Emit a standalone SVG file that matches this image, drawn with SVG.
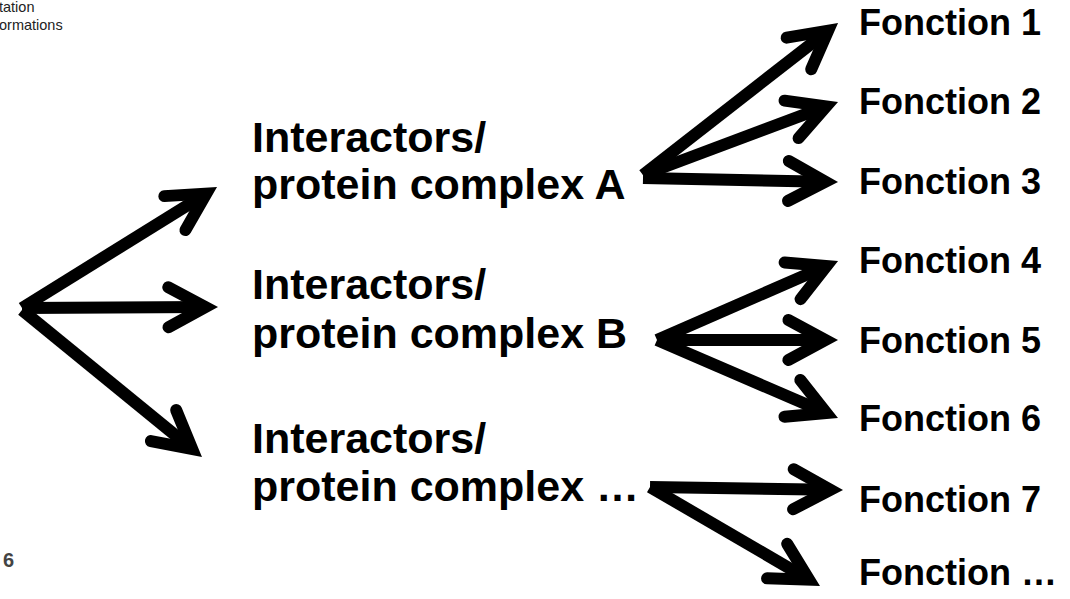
<svg xmlns="http://www.w3.org/2000/svg" width="1070" height="599" viewBox="0 0 1070 599">
  <style>
    .lbl { font-family: "Liberation Sans", Arial, sans-serif; font-weight: bold; fill: #000; }
    .big { font-size: 43px; }
    .fn { font-size: 36px; }
    .hdr { font-family: "Liberation Sans", Arial, sans-serif; font-size: 14.5px; fill: #222; }
    .pg { font-family: "Liberation Sans", Arial, sans-serif; font-size: 20px; font-weight: bold; fill: #444; }
    .shaft { stroke: #000; stroke-width: 12; fill: none; stroke-linecap: butt; marker-end: url(#chevron); }
  </style>
  <defs>
    <marker id="chevron" markerUnits="userSpaceOnUse" refX="0" refY="0" markerWidth="60" markerHeight="60" orient="auto" overflow="visible">
      <path d="M -37,-20 L 0,0 L -37,20" fill="none" stroke="#000" stroke-width="12" stroke-linecap="round" stroke-linejoin="miter"/>
    </marker>
  </defs>

  <!-- header fragment and page number -->
  <g id="header">
    <text class="hdr" x="-1" y="12">tation</text>
    <text class="hdr" x="-1" y="30">ormations</text>
  </g>
  <g id="page-number">
    <text class="pg" x="3" y="567">6</text>
  </g>

  <!-- connectors -->
  <g id="connectors">
    <!-- root fan -->
    <line class="shaft" x1="22" y1="308" x2="206.3" y2="193.6"/>
    <line class="shaft" x1="22" y1="308" x2="205.4" y2="307"/>
    <line class="shaft" x1="22" y1="310" x2="192.2" y2="449"/>
    <!-- complex A -->
    <line class="shaft" x1="643" y1="175" x2="828.1" y2="30.7"/>
    <line class="shaft" x1="643" y1="175" x2="826.2" y2="106.4"/>
    <line class="shaft" x1="643" y1="178" x2="825.4" y2="181.7"/>
    <!-- complex B -->
    <line class="shaft" x1="657" y1="340" x2="826.5" y2="266"/>
    <line class="shaft" x1="657" y1="340" x2="825.4" y2="340"/>
    <line class="shaft" x1="657" y1="340" x2="826.4" y2="413"/>
    <!-- complex ... -->
    <line class="shaft" x1="650" y1="487" x2="830.4" y2="489.8"/>
    <line class="shaft" x1="650" y1="487" x2="809.1" y2="579.7"/>
  </g>

  <!-- complexes -->
  <g id="complex-a">
    <text class="lbl big" x="252" y="152">Interactors/</text>
    <text class="lbl big" x="252" y="199">protein complex A</text>
  </g>
  <g id="complex-b">
    <text class="lbl big" x="252" y="299">Interactors/</text>
    <text class="lbl big" x="252" y="348">protein complex B</text>
  </g>
  <g id="complex-etc">
    <text class="lbl big" x="252" y="453">Interactors/</text>
    <text class="lbl big" x="252" y="501">protein complex …</text>
  </g>

  <!-- functions -->
  <g id="fonction-1"><text class="lbl fn" x="859" y="35">Fonction 1</text></g>
  <g id="fonction-2"><text class="lbl fn" x="859" y="114">Fonction 2</text></g>
  <g id="fonction-3"><text class="lbl fn" x="859" y="194">Fonction 3</text></g>
  <g id="fonction-4"><text class="lbl fn" x="859" y="273">Fonction 4</text></g>
  <g id="fonction-5"><text class="lbl fn" x="859" y="353">Fonction 5</text></g>
  <g id="fonction-6"><text class="lbl fn" x="859" y="431">Fonction 6</text></g>
  <g id="fonction-7"><text class="lbl fn" x="859" y="512">Fonction 7</text></g>
  <g id="fonction-etc"><text class="lbl fn" x="859" y="585">Fonction …</text></g>
</svg>
